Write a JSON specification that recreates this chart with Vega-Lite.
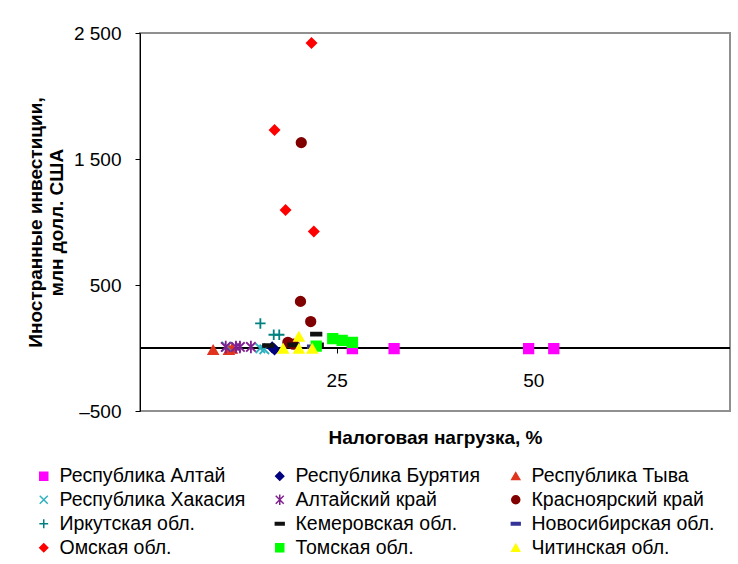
{
  "$schema": "https://vega.github.io/schema/vega-lite/v6.json",
  "width": 590,
  "height": 378,
  "autosize": "none",
  "padding": {"left": 140, "top": 33, "right": 8, "bottom": 153},
  "background": "white",
  "config": {
    "font": "Liberation Sans",
    "view": {"stroke": "#909090", "strokeWidth": 2},
    "axis": {"grid": false, "labelFont": "Liberation Sans", "titleFont": "Liberation Sans", "labelColor": "black", "titleColor": "black", "domainColor": "black", "tickColor": "black"},
    "legend": {"title": null, "orient": "none", "legendX": -106, "legendY": 433, "direction": "horizontal", "columns": 3, "gridAlign": "all", "columnPadding": 24, "rowPadding": 3, "labelFontSize": 19.5, "labelFont": "Liberation Sans", "labelColor": "black", "labelLimit": 300, "symbolSize": 64, "labelOffset": 6, "symbolStrokeWidth": 1.5}
  },
  "data": {
    "values": [
      {"region": "Республика Алтай", "tax": 27.0, "inv": -5},
      {"region": "Республика Алтай", "tax": 32.3, "inv": -5},
      {"region": "Республика Алтай", "tax": 49.4, "inv": -5},
      {"region": "Республика Алтай", "tax": 52.6, "inv": -5},
      {"region": "Республика Бурятия", "tax": 16.8, "inv": 5},
      {"region": "Республика Бурятия", "tax": 17.1, "inv": -12},
      {"region": "Республика Тыва", "tax": 9.3, "inv": -15},
      {"region": "Республика Тыва", "tax": 11.3, "inv": -15},
      {"region": "Республика Тыва", "tax": 11.7, "inv": -5},
      {"region": "Республика Хакасия", "tax": 11.0, "inv": 10},
      {"region": "Республика Хакасия", "tax": 15.3, "inv": -2},
      {"region": "Республика Хакасия", "tax": 15.8, "inv": -10},
      {"region": "Алтайский край", "tax": 10.9, "inv": 8},
      {"region": "Алтайский край", "tax": 12.2, "inv": 8},
      {"region": "Алтайский край", "tax": 12.7, "inv": 8},
      {"region": "Алтайский край", "tax": 14.1, "inv": 8},
      {"region": "Красноярский край", "tax": 20.5, "inv": 1630},
      {"region": "Красноярский край", "tax": 20.4, "inv": 370},
      {"region": "Красноярский край", "tax": 21.7, "inv": 210},
      {"region": "Красноярский край", "tax": 18.8, "inv": 45},
      {"region": "Красноярский край", "tax": 19.5, "inv": 30},
      {"region": "Иркутская обл.", "tax": 15.3, "inv": 195},
      {"region": "Иркутская обл.", "tax": 17.0, "inv": 105},
      {"region": "Иркутская обл.", "tax": 17.7, "inv": 105},
      {"region": "Кемеровская обл.", "tax": 16.3, "inv": 20},
      {"region": "Кемеровская обл.", "tax": 19.5, "inv": 25},
      {"region": "Кемеровская обл.", "tax": 22.4, "inv": 110},
      {"region": "Кемеровская обл.", "tax": 22.6, "inv": 25},
      {"region": "Новосибирская обл.", "tax": 22.0, "inv": 10},
      {"region": "Омская обл.", "tax": 21.8, "inv": 2420},
      {"region": "Омская обл.", "tax": 17.1, "inv": 1730},
      {"region": "Омская обл.", "tax": 18.5, "inv": 1095},
      {"region": "Омская обл.", "tax": 22.1, "inv": 925},
      {"region": "Томская обл.", "tax": 22.4, "inv": 15},
      {"region": "Томская обл.", "tax": 24.5, "inv": 75},
      {"region": "Томская обл.", "tax": 25.7, "inv": 60},
      {"region": "Томская обл.", "tax": 27.0, "inv": 45},
      {"region": "Читинская обл.", "tax": 18.2, "inv": -5},
      {"region": "Читинская обл.", "tax": 20.2, "inv": 90},
      {"region": "Читинская обл.", "tax": 20.2, "inv": -5},
      {"region": "Читинская обл.", "tax": 21.9, "inv": -5}
    ]
  },
  "layer": [
    {
      "mark": {"type": "rule", "color": "black", "strokeWidth": 1.2},
      "encoding": {"y": {"datum": 0, "type": "quantitative"}}
    },
    {
      "mark": {"type": "point", "filled": true, "size": 90, "strokeWidth": 1.8, "opacity": 1},
      "encoding": {
        "x": {
          "field": "tax", "type": "quantitative",
          "scale": {"domain": [0, 75], "nice": false, "zero": false},
          "axis": {"values": [25, 50], "domain": false, "offset": -63, "tickSize": 5, "labelPadding": 18, "labelFontSize": 19, "title": "Налоговая нагрузка, %", "titleFontSize": 19, "titleFontWeight": "bold", "titlePadding": 38}
        },
        "y": {
          "field": "inv", "type": "quantitative",
          "scale": {"domain": [-500, 2500], "nice": false, "zero": false},
          "axis": {"values": [-500, 500, 1500, 2500], "tickSize": 5, "labelPadding": 14, "labelFontSize": 19, "labelExpr": "replace(replace(format(datum.value, ',d'), ',', ' '), '−', '–')", "title": ["Иностранные инвестиции,", "млн долл. США"], "titleFontSize": 19, "titleFontWeight": "bold", "titlePadding": 7, "titleLineHeight": 21}
        },
        "color": {
          "field": "region", "type": "nominal",
          "scale": {
            "domain": ["Республика Алтай", "Республика Бурятия", "Республика Тыва", "Республика Хакасия", "Алтайский край", "Красноярский край", "Иркутская обл.", "Кемеровская обл.", "Новосибирская обл.", "Омская обл.", "Томская обл.", "Читинская обл."],
            "range": ["#FF00FF", "#000080", "#E0341E", "#2EB0C0", "#802090", "#800000", "#008080", "#111111", "#333399", "#FF0000", "#00FF00", "#FFFF00"]
          }
        },
        "stroke": {
          "field": "region", "type": "nominal",
          "scale": {
            "domain": ["Республика Алтай", "Республика Бурятия", "Республика Тыва", "Республика Хакасия", "Алтайский край", "Красноярский край", "Иркутская обл.", "Кемеровская обл.", "Новосибирская обл.", "Омская обл.", "Томская обл.", "Читинская обл."],
            "range": ["#FF00FF", "#000080", "#E0341E", "#2EB0C0", "#802090", "#800000", "#008080", "#111111", "#333399", "#FF0000", "#00FF00", "#FFFF00"]
          }
        },
        "shape": {
          "field": "region", "type": "nominal",
          "scale": {
            "domain": ["Республика Алтай", "Республика Бурятия", "Республика Тыва", "Республика Хакасия", "Алтайский край", "Красноярский край", "Иркутская обл.", "Кемеровская обл.", "Новосибирская обл.", "Омская обл.", "Томская обл.", "Читинская обл."],
            "range": ["square", "diamond", "triangle-up", "M-1,-1L1,1M-1,1L1,-1", "M-1,-1L1,1M-1,1L1,-1M0,-1.3L0,1.3", "circle", "M-1.1,0L1.1,0M0,-1.1L0,1.1", "M-1.1,-0.3L1.1,-0.3L1.1,0.3L-1.1,0.3Z", "M-1.1,-0.3L1.1,-0.3L1.1,0.3L-1.1,0.3Z", "diamond", "square", "triangle-up"]
          }
        }
      }
    }
  ]
}
